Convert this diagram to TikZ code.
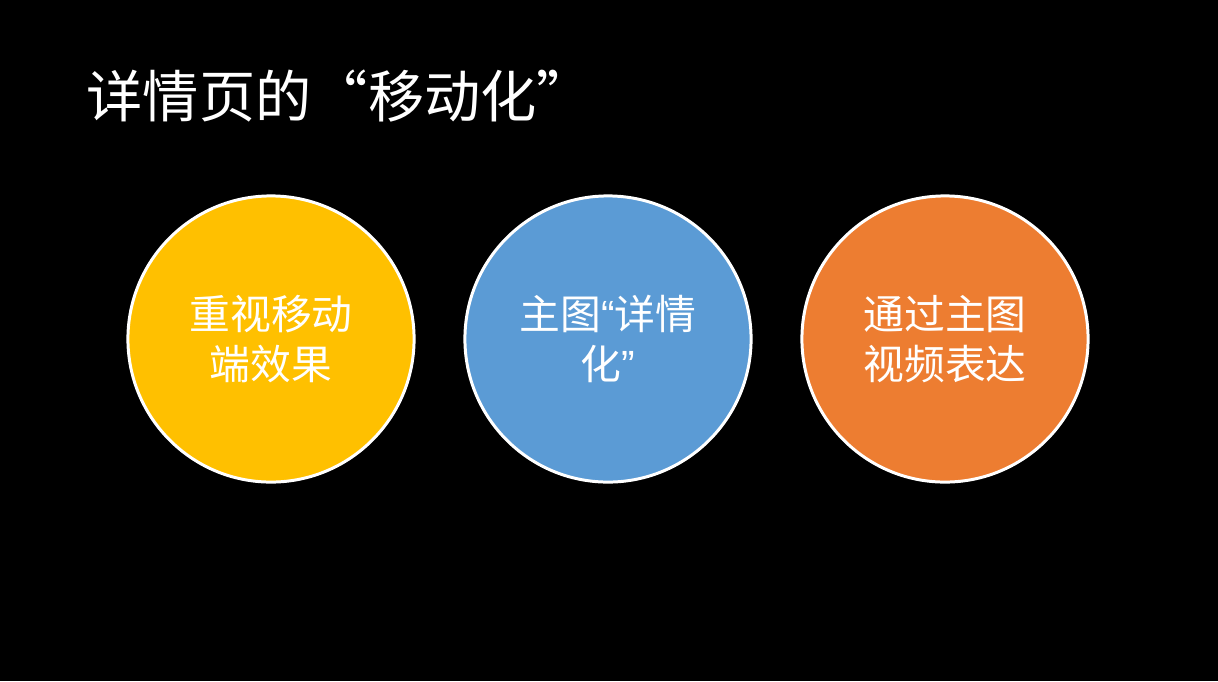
\documentclass[tikz,border=0pt]{standalone}
\usepackage{fontspec}
\newfontfamily\cjk{Noto Sans CJK SC}
\newfontfamily\latq{Liberation Sans}
\definecolor{cyellow}{HTML}{FFC000}
\definecolor{cblue}{HTML}{5B9BD5}
\definecolor{corange}{HTML}{ED7D31}
\begin{document}
\begin{tikzpicture}[x=0.01cm,y=-0.01cm,
  bubble/.style={circle,draw=white,line width=0.85pt,minimum size=2.86cm,inner sep=0pt,
    align=center,text=white,font=\cjk\fontsize{11.6pt}{14.2pt}\selectfont}]
\fill[black] (0,0) rectangle (1218,681);
\useasboundingbox (0,0) rectangle (1218,681);
\node[anchor=west,text=white,font=\cjk\fontsize{16pt}{18pt}\selectfont,inner sep=0pt] (title) at (86,96) {详情页的“移动化”};
\node[bubble,fill=cyellow] (c1) at (271,339) {重视移动\\端效果};
\node[bubble,fill=cblue] (c2) at (608,339) {主图{\latq “}详情\\化{\latq ”}};
\node[bubble,fill=corange] (c3) at (945,339) {通过主图\\视频表达};
\end{tikzpicture}
\end{document}
